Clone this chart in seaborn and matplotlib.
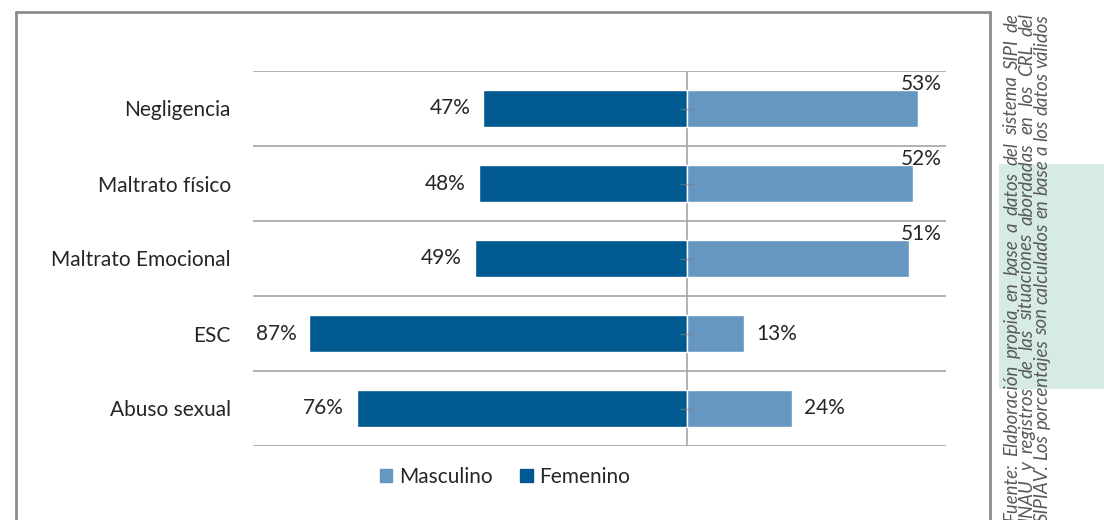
import numpy as np
import pandas as pd
import matplotlib
matplotlib.use("Agg")
import matplotlib.pyplot as plt
import seaborn as sns
from matplotlib.lines import Line2D
from matplotlib.patches import Rectangle, Patch

# ---------------- data ----------------
categories = ["Negligencia", "Maltrato físico", "Maltrato Emocional", "ESC", "Abuso sexual"]
femenino = [47, 48, 49, 87, 76]
masculino = [53, 52, 51, 13, 24]
series = ["Masculino", "Femenino"]
source_lines = [
    "Fuente: Elaboración propia en base a datos del sistema SIPI de",
    "INAU y registros de las situaciones abordadas en los CRL del",
    "SIPIAV. Los porcentajes son calculados en base a los datos válidos",
]

# ---------------- style ----------------
c_fem = "#00598F"
c_mas = "#6597C1"
txt = "#262626"
grid_c = "#A6A6A6"
FS = 15

sns.set_theme(style="white")
plt.rcParams["font.family"] = ["Lato", "DejaVu Sans"]

W, H = 1104, 520
fig = plt.figure(figsize=(W / 100, H / 100), dpi=100)
ax = fig.add_axes([253 / W, 1 - 446 / H, (946 - 253) / W, (446 - 71) / H])

df = pd.DataFrame({
    "categoria": categories,
    "Femenino": [-v for v in femenino],
    "Masculino": masculino,
})
sns.barplot(data=df, x="Femenino", y="categoria", color=c_fem, saturation=1,
            width=0.5, orient="h", ax=ax, zorder=3)
sns.barplot(data=df, x="Masculino", y="categoria", color=c_mas, saturation=1,
            width=0.5, orient="h", ax=ax, zorder=3)

ax.set_xlim(-100, 59.5)
ax.set_ylim(len(categories) - 0.5, -0.5)
for s in ax.spines.values():
    s.set_visible(False)
ax.set_xticks([])
ax.set_xlabel("")
ax.set_ylabel("")
ax.tick_params(axis="y", length=0, pad=16, labelsize=FS, labelcolor=txt)

for b in np.arange(-0.5, len(categories), 1.0):
    ax.axhline(b, color=grid_c, lw=1.2, zorder=1)
ax.axvline(0, color=grid_c, lw=1.2, zorder=2)
ax.plot([0] * len(categories), range(len(categories)), ls="none", marker="_",
        ms=10, mew=1, color="#7f7f7f", zorder=4, alpha=0.6)

for i, (f, m) in enumerate(zip(femenino, masculino)):
    ax.text(-f - 3, i, f"{f}%", ha="right", va="center", fontsize=FS, color=txt)
    if m > 40:
        ax.text(58.6, i - 0.33, f"{m}%", ha="right", va="center", fontsize=FS, color=txt)
    else:
        ax.text(m + 2.8, i, f"{m}%", ha="left", va="center", fontsize=FS, color=txt)

handles = [Patch(color=c_mas), Patch(color=c_fem)]
fig.legend(handles, series, loc="center", bbox_to_anchor=(505 / W, 1 - 477 / H),
           ncol=2, frameon=False, fontsize=FS, handlelength=0.6, handleheight=0.6,
           handletextpad=0.3, columnspacing=1.35, labelcolor=txt)

# frame
fc = "#8C8C8C"
fig.add_artist(Line2D([16 / W, 16 / W], [0, 1 - 12 / H], transform=fig.transFigure, color=fc, lw=2))
fig.add_artist(Line2D([16 / W, 990 / W], [1 - 12 / H, 1 - 12 / H], transform=fig.transFigure, color=fc, lw=2))
fig.add_artist(Line2D([990 / W, 990 / W], [0, 1 - 12 / H], transform=fig.transFigure, color=fc, lw=2))

# green box
fig.add_artist(Rectangle((999 / W, 1 - 389 / H), (W - 999) / W, (389 - 164) / H,
                         transform=fig.transFigure, color="#D6EBE6", zorder=0, lw=0))

# justified rotated source note
fig.canvas.draw()
r = fig.canvas.get_renderer()
probe = fig.text(0, 0, source_lines[2], fontsize=10, rotation=90, style="italic")
fig.canvas.draw()
h10 = probe.get_window_extent(r).height
probe.remove()
fs = 10 * 508 / h10
y_bot, y_top = 522, 13
xs = [1012, 1027, 1042]
for li, (line, xc) in enumerate(zip(source_lines, xs)):
    words = line.split(" ")
    objs = [fig.text(xc / W, 0, w, fontsize=fs, rotation=90, style="italic",
                     color="#595959", ha="center", va="bottom") for w in words]
    fig.canvas.draw()
    hs = [o.get_window_extent(r).height for o in objs]
    total = y_bot - y_top
    if li < 2:
        gap = (total - sum(hs)) / (len(words) - 1)
    else:
        sp = fig.text(0, 0, "a b", fontsize=fs, rotation=90, style="italic")
        sp2 = fig.text(0, 0, "ab", fontsize=fs, rotation=90, style="italic")
        fig.canvas.draw()
        gap = sp.get_window_extent(r).height - sp2.get_window_extent(r).height
        sp.remove(); sp2.remove()
    y = y_bot
    for o, hh in zip(objs, hs):
        o.set_position((xc / W, 1 - y / H))
        y -= hh + gap

fig.savefig("out.png", dpi=100)
